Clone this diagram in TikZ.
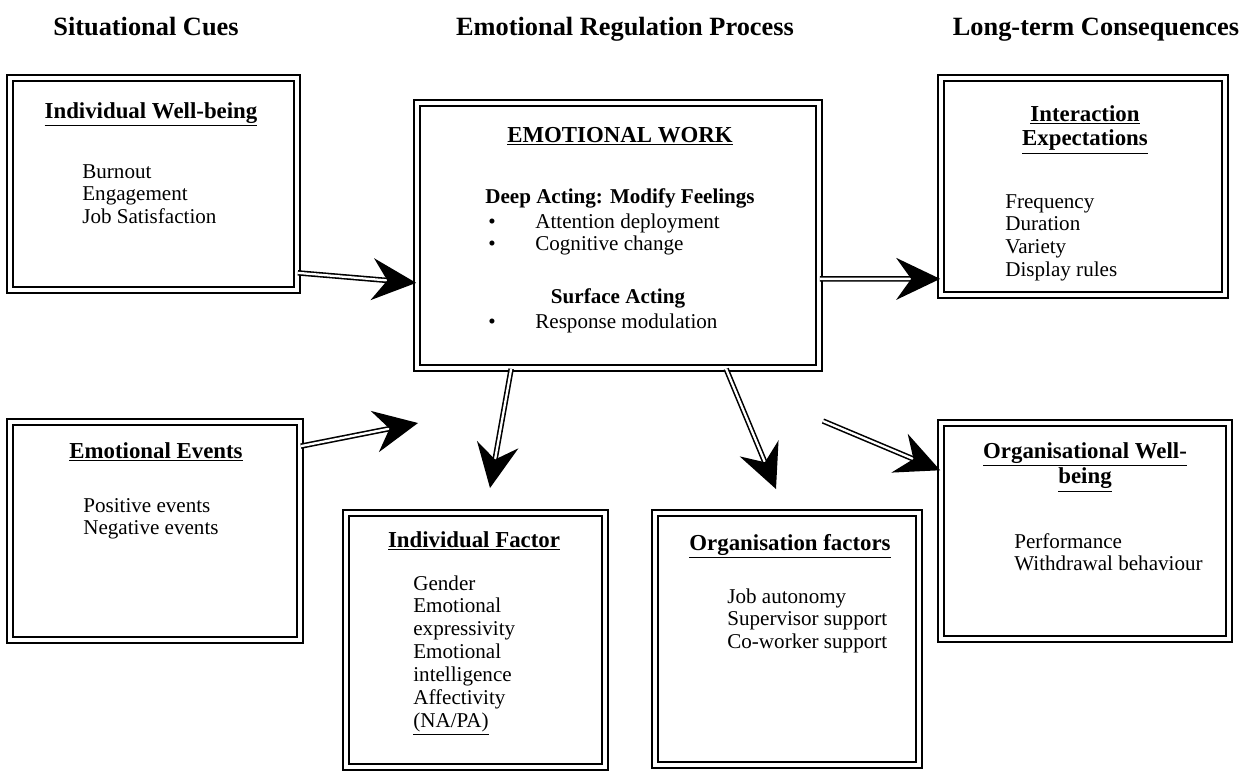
\documentclass[tikz,border=0pt]{standalone}
\usepackage{fontspec}
\setmainfont{Liberation Serif}
\usetikzlibrary{positioning,arrows.meta}
\newcommand{\boxlines}[1]{\begin{tabular}[t]{@{}l@{}}#1\end{tabular}}
\newcommand{\ctrlines}[1]{\begin{tabular}[t]{@{}c@{}}#1\end{tabular}}
\newcommand{\bulletlines}[1]{\begin{tabular}[t]{@{}p{0.94cm}@{}l@{}}#1\end{tabular}}
\tikzset{box/.style = {draw,double,double distance=2.2pt,line width=1pt,inner sep=0pt},
         colhead/.style = {font=\bfseries\fontsize{15}{17}\selectfont,anchor=base,inner sep=0pt},
         boxtitle/.style = {font=\bfseries\fontsize{13}{14}\selectfont,anchor=base,inner sep=0pt},
         subhead/.style = {font=\bfseries\fontsize{12}{13}\selectfont,anchor=base,inner sep=0pt},
         entries/.style = {font=\fontsize{12}{13}\selectfont,anchor=base west,inner sep=0pt},
         flow/.style = {double,double distance=1.3pt,line width=0.9pt,
                        -{Stealth[length=0.88cm,width=0.84cm,inset=0.3cm]}}}

\begin{document}
\begin{tikzpicture}[x=0.02cm,y=-0.02cm]
                    \useasboundingbox (0,0) rectangle (1246,772);

                    \node [colhead] (cues) at ( 146,35) {Situational Cues};
                    \node [colhead] (proc) at ( 625,35) {Emotional Regulation Process};
                    \node [colhead] (cons) at (1096,35) {Long-term Consequences};

                    \begin{scope}
                        \node [box,minimum width=5.74cm,minimum height=4.24cm] (iwb) at (153.5,184) {};
                        \node [boxtitle] (iwbT) at (151,118) {\underline{Individual Well-being}};
                        \node [entries]  (iwbL) at (82,178)  {\boxlines{Burnout\\Engagement\\Job Satisfaction}};

                        \node [box,minimum width=5.8cm,minimum height=4.36cm] (ee) at (155,531) {};
                        \node [boxtitle] (eeT) at (156,458) {\underline{Emotional Events}};
                        \node [entries]  (eeL) at (83,512)  {\boxlines{Positive events\\Negative events}};
                    \end{scope}

                    \begin{scope}
                        \node [box,minimum width=8.04cm,minimum height=5.3cm] (ew) at (618,235.5) {};
                        \node [boxtitle] (ewT)   at (620,142) {\underline{EMOTIONAL WORK}};
                        \node [subhead]  (deep)  at (620,203) {Deep Acting: Modify Feelings};
                        \node [entries]  (deepL) at (488,228) {\bulletlines{\textbullet & Attention deployment\\ \textbullet & Cognitive change}};
                        \node [subhead]  (surf)  at (618,303) {Surface Acting};
                        \node [entries]  (surfL) at (488,328) {\bulletlines{\textbullet & Response modulation}};

                        \node [box,minimum width=5.18cm,minimum height=5.08cm] (indf) at (475.5,640) {};
                        \node [boxtitle] (indfT) at (474,547) {\underline{Individual Factor}};
                        \node [entries]  (indfL) at (413,590) {\boxlines{Gender\\Emotional\\expressivity\\Emotional\\intelligence\\Affectivity\\\underline{(NA/PA)}}};

                        \node [box,minimum width=5.28cm,minimum height=5.04cm] (orgf) at (787,639) {};
                        \node [boxtitle] (orgfT) at (790,550) {\underline{Organisation factors}};
                        \node [entries]  (orgfL) at (727,603) {\boxlines{Job autonomy\\Supervisor support\\Co-worker support}};
                    \end{scope}

                    \begin{scope}
                        \node [box,minimum width=5.68cm,minimum height=4.34cm] (iex) at (1083,186.5) {};
                        \node [boxtitle] (iexT) at (1085,121) {\ctrlines{\underline{Interaction}\\\underline{Expectations}}};
                        \node [entries]  (iexL) at (1005,208) {\boxlines{Frequency\\Duration\\Variety\\Display rules}};

                        \node [box,minimum width=5.76cm,minimum height=4.32cm] (owb) at (1085,531) {};
                        \node [boxtitle] (owbT) at (1085,458) {\ctrlines{\underline{Organisational Well-}\\\underline{being}}};
                        \node [entries]  (owbL) at (1014,548) {\boxlines{Performance\\Withdrawal behaviour}};
                    \end{scope}

                    \coordinate (evtip)   at (418,423);
                    \coordinate (indtip)  at (490,488);
                    \coordinate (orgtip)  at (776,489);
                    \coordinate (owbtail) at (823,421);

                    \draw [flow] ([yshift=0.36cm]iwb.south east) -- ([yshift=1.72cm]ew.south west);
                    \draw [flow] ([yshift=-0.5cm]ee.north east) -- (evtip);
                    \draw [flow] ([yshift=1.8cm]ew.south east) -- ([yshift=0.34cm]iex.south west);
                    \draw [flow] ([xshift=1.9cm]ew.south west) -- (indtip);
                    \draw [flow] ([xshift=6.2cm]ew.south west) -- (orgtip);
                    \draw [flow] (owbtail) -- (owb);
                \end{tikzpicture}
\end{document}
